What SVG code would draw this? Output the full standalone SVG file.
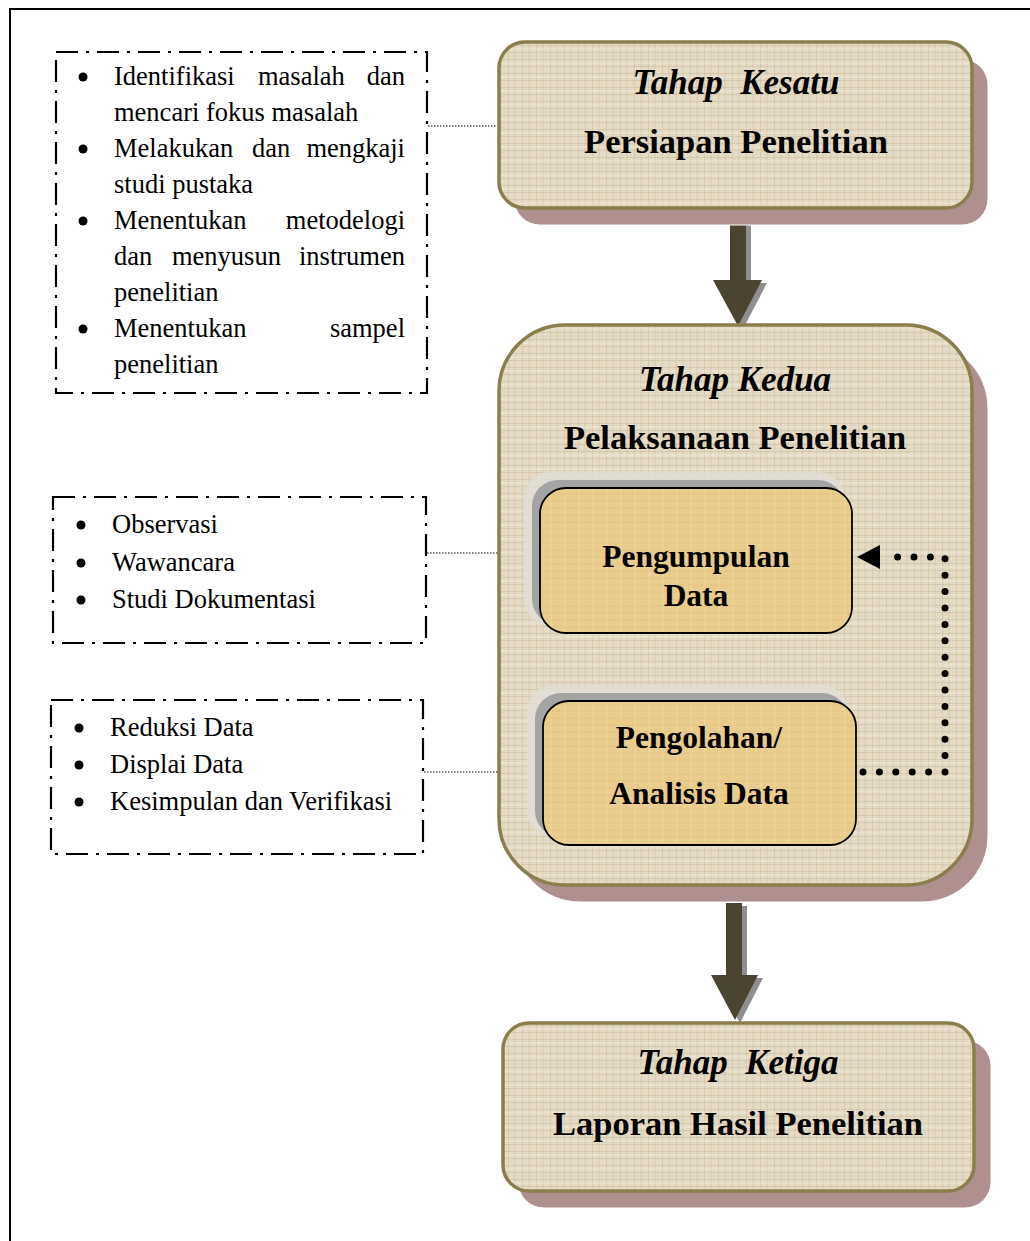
<svg xmlns="http://www.w3.org/2000/svg" width="1030" height="1241" viewBox="0 0 1030 1241">
<style>
.t{font-family:"Liberation Serif","Times New Roman",serif;fill:#000}
.li{font-size:26.5px}
.ti{font-size:35px;font-weight:bold;font-style:italic}
.tb{font-size:34.5px;font-weight:bold}
.ib{font-size:31.5px;font-weight:bold}
.dd{fill:none;stroke:#000;stroke-width:2.2;stroke-dasharray:22 8 3 8}
.thin{fill:none;stroke:#000;stroke-width:1.2;stroke-dasharray:1.5 1.5}
.shadow{fill:#B08F8F;stroke:#fff;stroke-width:1}
.stage{fill:url(#tex);stroke:#8A7F4C;stroke-width:3.5}
.inner{fill:url(#gold);stroke:#000;stroke-width:1.8}
.ishadow{fill:#A4A4A4}
.ihalo{fill:#E2DED6;opacity:.85}
.arr{fill:#4A4430}
.arrs{fill:#8E8E8E}
</style>
<defs>
<pattern id="tex" width="14" height="14" patternUnits="userSpaceOnUse">
<rect width="14" height="14" fill="#E5DAC3"/>
<path d="M0 3.5H14M0 10.5H14" stroke="#CFC2A6" stroke-width="1" opacity=".7"/>
<path d="M4.5 0V14M11 0V14" stroke="#CDBFA3" stroke-width="1" opacity=".6"/>
<path d="M0 7H14" stroke="#F2EBDC" stroke-width="1" opacity=".8"/>
</pattern>
<pattern id="gold" width="14" height="14" patternUnits="userSpaceOnUse">
<rect width="14" height="14" fill="#EACD8D"/>
<path d="M0 4H14M0 11H14" stroke="#DCBC78" stroke-width="1" opacity=".6"/>
<path d="M5 0V14" stroke="#F0D9A4" stroke-width="1" opacity=".6"/>
</pattern>
</defs>

<path d="M10 1241V9H1030" fill="none" stroke="#000" stroke-width="2"/>

<g id="connectors">
<line class="thin" x1="428" y1="126" x2="497" y2="126"/>
<line class="thin" x1="427" y1="553" x2="540" y2="553"/>
<line class="thin" x1="424" y1="772" x2="536" y2="772"/>
<path class="arrs" d="M735,210 H751 V283 H767 L743,329 L718,283 H735 Z"/>
<path class="arr" d="M730,207 H746 V280 H762 L738,326 L713,280 H730 Z"/>
<path class="arrs" d="M730,636 H747 V658 H761 L738,703 L715,658 H730 Z"/>
<path class="arr" d="M725,633 H742 V655 H756 L733,700 L710,655 H725 Z"/>
<path class="arrs" d="M731,906 H747 V978 H763 L740,1023 L716,978 H731 Z"/>
<path class="arr" d="M726,903 H742 V975 H758 L735,1020 L711,975 H726 Z"/>
</g>

<g id="stage1">
<rect class="shadow" x="514" y="59" width="474" height="166" rx="26"/>
<rect class="stage" x="499" y="42" width="473" height="166" rx="26"/>
<text class="t ti" x="736" y="94" text-anchor="middle" xml:space="preserve">Tahap  Kesatu</text>
<text class="t tb" x="736" y="153" text-anchor="middle">Persiapan Penelitian</text>
</g>

<g id="stage2">
<rect class="shadow" x="514" y="342" width="474" height="560" rx="66"/>
<rect class="stage" x="499" y="325" width="473" height="560" rx="66"/>
<text class="t ti" x="735" y="391" text-anchor="middle">Tahap Kedua</text>
<text class="t tb" x="735" y="449" text-anchor="middle">Pelaksanaan Penelitian</text>
</g>

<g id="pengumpulan">
<rect class="ihalo" x="524" y="472" width="320" height="153" rx="26"/>
<rect class="ishadow" x="532" y="480" width="312" height="145" rx="26"/>
<rect class="inner" x="540" y="488" width="312" height="145" rx="26"/>
<text class="t ib" x="696" y="567" text-anchor="middle">Pengumpulan</text>
<text class="t ib" x="696" y="606" text-anchor="middle">Data</text>
</g>

<g id="pengolahan">
<rect class="ihalo" x="527" y="685" width="321" height="152" rx="26"/>
<rect class="ishadow" x="535" y="693" width="313" height="144" rx="26"/>
<rect class="inner" x="543" y="701" width="313" height="144" rx="26"/>
<text class="t ib" x="699" y="748" text-anchor="middle">Pengolahan/</text>
<text class="t ib" x="699" y="804" text-anchor="middle">Analisis Data</text>
</g>

<g id="feedback">
<path d="M863,772 H945 V557 H882" fill="none" stroke="#000" stroke-width="7" stroke-linecap="round" stroke-dasharray="0 16.4"/>
<polygon points="857,557 880,545 880,569" fill="#000"/>
</g>

<g id="stage3">
<rect class="shadow" x="518" y="1040" width="473" height="168" rx="26"/>
<rect class="stage" x="503" y="1023" width="471" height="168" rx="26"/>
<text class="t ti" x="738" y="1074" text-anchor="middle" xml:space="preserve">Tahap  Ketiga</text>
<text class="t tb" x="738" y="1135" text-anchor="middle">Laporan Hasil Penelitian</text>
</g>

<g id="list1">
<rect class="dd" x="56" y="52" width="371" height="341"/>
<g class="t li">
<circle cx="83" cy="77" r="4.5"/>
<text x="114" y="85">Identifikasi</text><text x="258" y="85">masalah</text><text x="405" y="85" text-anchor="end">dan</text>
<text x="114" y="121">mencari fokus masalah</text>
<circle cx="83" cy="149" r="4.5"/>
<text x="114" y="157">Melakukan</text><text x="252" y="157">dan</text><text x="405" y="157" text-anchor="end">mengkaji</text>
<text x="114" y="193">studi pustaka</text>
<circle cx="83" cy="221" r="4.5"/>
<text x="114" y="229">Menentukan</text><text x="405" y="229" text-anchor="end">metodelogi</text>
<text x="114" y="265">dan</text><text x="172" y="265">menyusun</text><text x="405" y="265" text-anchor="end">instrumen</text>
<text x="114" y="301">penelitian</text>
<circle cx="83" cy="329" r="4.5"/>
<text x="114" y="337">Menentukan</text><text x="405" y="337" text-anchor="end">sampel</text>
<text x="114" y="373">penelitian</text>
</g>
</g>

<g id="list2">
<rect class="dd" x="53" y="497" width="373" height="146"/>
<g class="t li">
<circle cx="81" cy="525" r="4.5"/>
<text x="112" y="533">Observasi</text>
<circle cx="81" cy="563" r="4.5"/>
<text x="112" y="571">Wawancara</text>
<circle cx="81" cy="600" r="4.5"/>
<text x="112" y="608">Studi Dokumentasi</text>
</g>
</g>

<g id="list3">
<rect class="dd" x="51" y="700" width="372" height="154"/>
<g class="t li">
<circle cx="79" cy="728" r="4.5"/>
<text x="110" y="736">Reduksi Data</text>
<circle cx="79" cy="765" r="4.5"/>
<text x="110" y="773">Displai Data</text>
<circle cx="79" cy="802" r="4.5"/>
<text x="110" y="810">Kesimpulan dan Verifikasi</text>
</g>
</g>
</svg>
